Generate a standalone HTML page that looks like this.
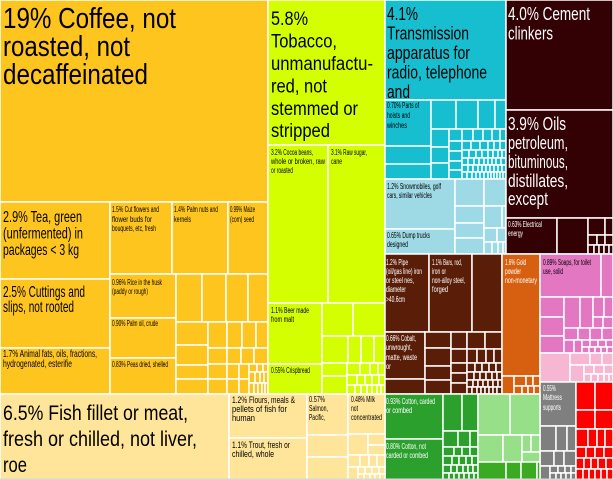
<!DOCTYPE html>
<html><head><meta charset="utf-8"><style>
html,body{margin:0;padding:0;background:#fff;}
svg{display:block;}
text{font-family:"Liberation Sans Narrow","Liberation Sans",sans-serif;}
</style></head><body>
<svg width="613" height="480" viewBox="0 0 613 480" xmlns="http://www.w3.org/2000/svg">
<rect x="0" y="0" width="613" height="480" fill="#fff"/>
<g stroke="#fff" stroke-width="1.5">
<!-- yellow family -->
<g fill="#FFC51F">
<rect x="0" y="0" width="268" height="202"/>
<rect x="0" y="202" width="110" height="77"/>
<rect x="0" y="279" width="110" height="69"/>
<rect x="0" y="348" width="110" height="46"/>
<rect x="110" y="202" width="62" height="72"/>
<rect x="172" y="202" width="56" height="72"/>
<rect x="228" y="202" width="40" height="72"/>
<rect x="110" y="274" width="66" height="44"/>
<rect x="110" y="318" width="66" height="40"/>
<rect x="110" y="358" width="66" height="36"/>
<rect x="176" y="274" width="26" height="48"/>
<rect x="202" y="274" width="24" height="48"/>
<rect x="226" y="274" width="22" height="48"/>
<rect x="248" y="274" width="20" height="48"/>
<rect x="176" y="322" width="32" height="23"/>
<rect x="176" y="345" width="32" height="20"/>
<rect x="176" y="365" width="32" height="14"/>
<rect x="176" y="379" width="32" height="15"/>
<rect x="208" y="322" width="19" height="26"/>
<rect x="208" y="348" width="19" height="16"/>
<rect x="208" y="364" width="19" height="15"/>
<rect x="208" y="379" width="19" height="15"/>
<rect x="227" y="322" width="15" height="26"/>
<rect x="242" y="322" width="14" height="26"/>
<rect x="256" y="322" width="12" height="26"/>
<rect x="227" y="348" width="14" height="16"/>
<rect x="241" y="348" width="13" height="16"/>
<rect x="254" y="348" width="14" height="16"/>
<rect x="227" y="364" width="12" height="15"/>
<rect x="239" y="364" width="10" height="15"/>
<rect x="249" y="364" width="8" height="8"/>
<rect x="257" y="364" width="6" height="8"/>
<rect x="263" y="364" width="5" height="8"/>
<rect x="227" y="379" width="12" height="15"/>
<rect x="239" y="379" width="10" height="15"/>
<rect x="249" y="372" width="6" height="11"/>
<rect x="255" y="372" width="5" height="11"/>
<rect x="260" y="372" width="4" height="11"/>
<rect x="264" y="372" width="4" height="11"/>
<rect x="249" y="383" width="5" height="11"/>
<rect x="254" y="383" width="4" height="11"/>
<rect x="258" y="383" width="4" height="11"/>
<rect x="262" y="383" width="3" height="11"/>
<rect x="265" y="383" width="3" height="11"/>
</g>
<!-- lime family -->
<g fill="#D4FF00">
<rect x="268" y="0" width="117" height="145"/>
<rect x="268" y="145" width="60" height="158"/>
<rect x="328" y="145" width="57" height="158"/>
<rect x="268" y="303" width="54" height="61"/>
<rect x="268" y="364" width="54" height="30"/>
<rect x="322" y="303" width="31" height="33"/>
<rect x="353" y="303" width="32" height="33"/>
<rect x="322" y="336" width="26" height="27"/>
<rect x="348" y="336" width="13" height="27"/>
<rect x="361" y="336" width="13" height="27"/>
<rect x="374" y="336" width="11" height="27"/>
<rect x="322" y="363" width="25" height="13"/>
<rect x="322" y="376" width="25" height="18"/>
<rect x="347" y="363" width="13" height="12"/>
<rect x="360" y="363" width="10" height="12"/>
<rect x="370" y="363" width="8" height="12"/>
<rect x="378" y="363" width="7" height="12"/>
<rect x="347" y="375" width="10" height="10"/>
<rect x="357" y="375" width="8" height="10"/>
<rect x="365" y="375" width="7" height="10"/>
<rect x="372" y="375" width="7" height="10"/>
<rect x="379" y="375" width="6" height="10"/>
<rect x="347" y="385" width="8" height="9"/>
<rect x="355" y="385" width="6" height="9"/>
<rect x="361" y="385" width="6" height="9"/>
<rect x="367" y="385" width="5" height="9"/>
<rect x="372" y="385" width="5" height="9"/>
<rect x="377" y="385" width="4" height="9"/>
<rect x="381" y="385" width="4" height="9"/>
</g>
<!-- teal -->
<g fill="#17BECF">
<rect x="385" y="0" width="121" height="100"/>
<rect x="385" y="100" width="46" height="46"/>
<rect x="385" y="146" width="46" height="18"/>
<rect x="385" y="164" width="46" height="15"/>
<rect x="431" y="100" width="25" height="29"/>
<rect x="456" y="100" width="22" height="29"/>
<rect x="478" y="100" width="17" height="29"/>
<rect x="495" y="100" width="11" height="29"/>
<rect x="431" y="129" width="18" height="18"/>
<rect x="431" y="147" width="18" height="16"/>
<rect x="431" y="163" width="18" height="16"/>
<rect x="449" y="129" width="13" height="12"/>
<rect x="462" y="129" width="11" height="12"/>
<rect x="473" y="129" width="10" height="12"/>
<rect x="483" y="129" width="9" height="12"/>
<rect x="492" y="129" width="8" height="12"/>
<rect x="500" y="129" width="6" height="12"/>
<rect x="449" y="141" width="13" height="10"/>
<rect x="449" y="151" width="13" height="10"/>
<rect x="449" y="161" width="13" height="9"/>
<rect x="449" y="170" width="13" height="9"/>
<rect x="462" y="141" width="9" height="9"/>
<rect x="471" y="141" width="9" height="9"/>
<rect x="480" y="141" width="8" height="9"/>
<rect x="488" y="141" width="6" height="9"/>
<rect x="494" y="141" width="6" height="9"/>
<rect x="500" y="141" width="6" height="9"/>
<rect x="462" y="150" width="7" height="8"/>
<rect x="469" y="150" width="7" height="8"/>
<rect x="476" y="150" width="6" height="8"/>
<rect x="482" y="150" width="6" height="8"/>
<rect x="488" y="150" width="5" height="8"/>
<rect x="493" y="150" width="5" height="8"/>
<rect x="498" y="150" width="4" height="8"/>
<rect x="502" y="150" width="4" height="8"/>
<rect x="462" y="158" width="6" height="7"/>
<rect x="468" y="158" width="6" height="7"/>
<rect x="474" y="158" width="5" height="7"/>
<rect x="479" y="158" width="5" height="7"/>
<rect x="484" y="158" width="4" height="7"/>
<rect x="488" y="158" width="4" height="7"/>
<rect x="492" y="158" width="4" height="7"/>
<rect x="496" y="158" width="5" height="7"/>
<rect x="501" y="158" width="5" height="7"/>
<rect x="462" y="165" width="6" height="7"/>
<rect x="468" y="165" width="5" height="7"/>
<rect x="473" y="165" width="5" height="7"/>
<rect x="478" y="165" width="4" height="7"/>
<rect x="482" y="165" width="4" height="7"/>
<rect x="486" y="165" width="4" height="7"/>
<rect x="490" y="165" width="4" height="7"/>
<rect x="494" y="165" width="4" height="7"/>
<rect x="498" y="165" width="4" height="7"/>
<rect x="502" y="165" width="4" height="7"/>
<rect x="462" y="172" width="5" height="7"/>
<rect x="467" y="172" width="5" height="7"/>
<rect x="472" y="172" width="4" height="7"/>
<rect x="476" y="172" width="4" height="7"/>
<rect x="480" y="172" width="4" height="7"/>
<rect x="484" y="172" width="4" height="7"/>
<rect x="488" y="172" width="3" height="7"/>
<rect x="491" y="172" width="3" height="7"/>
<rect x="494" y="172" width="3" height="7"/>
<rect x="497" y="172" width="3" height="7"/>
<rect x="500" y="172" width="3" height="7"/>
<rect x="503" y="172" width="3" height="7"/>
</g>
<!-- light blue -->
<g fill="#9EDAE5">
<rect x="385" y="179" width="70" height="50"/>
<rect x="385" y="229" width="70" height="25"/>
<rect x="455" y="179" width="29" height="27"/>
<rect x="484" y="179" width="22" height="27"/>
<rect x="455" y="206" width="29" height="17"/>
<rect x="455" y="223" width="29" height="15"/>
<rect x="455" y="238" width="29" height="16"/>
<rect x="484" y="206" width="18" height="22"/>
<rect x="502" y="206" width="4" height="22"/>
<rect x="484" y="228" width="13" height="14"/>
<rect x="497" y="228" width="9" height="14"/>
<rect x="484" y="242" width="8" height="12"/>
<rect x="492" y="242" width="6" height="12"/>
<rect x="498" y="242" width="5" height="12"/>
<rect x="503" y="242" width="3" height="12"/>
</g>
<!-- dark brown -->
<g fill="#330003">
<rect x="506" y="0" width="107" height="110"/>
<rect x="506" y="110" width="107" height="108"/>
<rect x="506" y="218" width="51" height="36"/>
<rect x="557" y="218" width="31" height="36"/>
<rect x="588" y="218" width="17" height="17"/>
<rect x="605" y="218" width="8" height="17"/>
<rect x="588" y="235" width="9" height="10"/>
<rect x="597" y="235" width="8" height="10"/>
<rect x="605" y="235" width="8" height="10"/>
<rect x="588" y="245" width="6" height="9"/>
<rect x="594" y="245" width="5" height="9"/>
<rect x="599" y="245" width="5" height="9"/>
<rect x="604" y="245" width="5" height="9"/>
<rect x="609" y="245" width="4" height="9"/>
</g>
<!-- brown -->
<g fill="#5A1E08">
<rect x="385" y="254" width="44" height="78"/>
<rect x="429" y="254" width="43" height="78"/>
<rect x="472" y="254" width="30" height="78"/>
<rect x="385" y="332" width="40" height="47"/>
<rect x="385" y="379" width="40" height="15"/>
<rect x="425" y="332" width="26" height="16"/>
<rect x="425" y="348" width="26" height="18"/>
<rect x="425" y="366" width="26" height="14"/>
<rect x="425" y="380" width="26" height="14"/>
<rect x="451" y="332" width="16" height="17"/>
<rect x="467" y="332" width="18" height="17"/>
<rect x="485" y="332" width="17" height="17"/>
<rect x="451" y="349" width="16" height="14"/>
<rect x="467" y="349" width="10" height="14"/>
<rect x="477" y="349" width="9" height="14"/>
<rect x="486" y="349" width="8" height="14"/>
<rect x="494" y="349" width="8" height="14"/>
<rect x="451" y="363" width="16" height="10"/>
<rect x="451" y="373" width="16" height="10"/>
<rect x="451" y="383" width="16" height="11"/>
<rect x="467" y="363" width="8" height="9"/>
<rect x="475" y="363" width="7" height="9"/>
<rect x="482" y="363" width="7" height="9"/>
<rect x="489" y="363" width="7" height="9"/>
<rect x="496" y="363" width="6" height="9"/>
<rect x="467" y="372" width="7" height="8"/>
<rect x="474" y="372" width="6" height="8"/>
<rect x="480" y="372" width="6" height="8"/>
<rect x="486" y="372" width="6" height="8"/>
<rect x="492" y="372" width="5" height="8"/>
<rect x="497" y="372" width="5" height="8"/>
<rect x="467" y="380" width="6" height="7"/>
<rect x="473" y="380" width="5" height="7"/>
<rect x="478" y="380" width="5" height="7"/>
<rect x="483" y="380" width="5" height="7"/>
<rect x="488" y="380" width="5" height="7"/>
<rect x="493" y="380" width="5" height="7"/>
<rect x="498" y="380" width="4" height="7"/>
<rect x="467" y="387" width="5" height="7"/>
<rect x="472" y="387" width="5" height="7"/>
<rect x="477" y="387" width="4" height="7"/>
<rect x="481" y="387" width="4" height="7"/>
<rect x="485" y="387" width="4" height="7"/>
<rect x="489" y="387" width="4" height="7"/>
<rect x="493" y="387" width="4" height="7"/>
<rect x="497" y="387" width="5" height="7"/>
</g>
<!-- orange -->
<g fill="#D66010">
<rect x="502" y="254" width="38" height="122"/>
<rect x="502" y="376" width="12" height="18"/>
<rect x="514" y="376" width="12" height="10"/>
<rect x="526" y="376" width="7" height="10"/>
<rect x="533" y="376" width="7" height="10"/>
<rect x="514" y="386" width="8" height="8"/>
<rect x="522" y="386" width="6" height="8"/>
<rect x="528" y="386" width="6" height="8"/>
<rect x="534" y="386" width="6" height="8"/>
</g>
<!-- pink -->
<g fill="#E377C2">
<rect x="540" y="254" width="61" height="43"/>
<rect x="601" y="254" width="12" height="43"/>
<rect x="540" y="297" width="24" height="20"/>
<rect x="540" y="317" width="24" height="19"/>
<rect x="540" y="336" width="24" height="17"/>
<rect x="564" y="297" width="16" height="31"/>
<rect x="580" y="297" width="13" height="31"/>
<rect x="593" y="297" width="11" height="20"/>
<rect x="604" y="297" width="9" height="20"/>
<rect x="593" y="317" width="10" height="11"/>
<rect x="603" y="317" width="10" height="11"/>
<rect x="564" y="328" width="14" height="12"/>
<rect x="578" y="328" width="12" height="12"/>
<rect x="590" y="328" width="12" height="12"/>
<rect x="602" y="328" width="11" height="12"/>
<rect x="564" y="340" width="10" height="13"/>
<rect x="574" y="340" width="8" height="13"/>
<rect x="582" y="340" width="8" height="7"/>
<rect x="590" y="340" width="8" height="7"/>
<rect x="598" y="340" width="8" height="7"/>
<rect x="606" y="340" width="7" height="7"/>
<rect x="582" y="347" width="7" height="6"/>
<rect x="589" y="347" width="6" height="6"/>
<rect x="595" y="347" width="6" height="6"/>
<rect x="601" y="347" width="6" height="6"/>
<rect x="607" y="347" width="6" height="6"/>
</g>
<g fill="#F7B6D2">
<rect x="540" y="353" width="30" height="29"/>
<rect x="570" y="353" width="20" height="12"/>
<rect x="590" y="353" width="12" height="12"/>
<rect x="602" y="353" width="11" height="12"/>
<rect x="570" y="365" width="14" height="17"/>
<rect x="584" y="365" width="10" height="9"/>
<rect x="594" y="365" width="10" height="9"/>
<rect x="604" y="365" width="9" height="9"/>
<rect x="584" y="374" width="7" height="8"/>
<rect x="591" y="374" width="7" height="8"/>
<rect x="598" y="374" width="6" height="8"/>
<rect x="604" y="374" width="5" height="8"/>
<rect x="609" y="374" width="4" height="8"/>
</g>
<!-- gray -->
<g fill="#7F7F7F">
<rect x="540" y="382" width="36" height="44"/>
<rect x="540" y="426" width="16" height="25"/>
<rect x="556" y="426" width="11" height="25"/>
<rect x="567" y="426" width="9" height="25"/>
<rect x="540" y="451" width="14" height="15"/>
<rect x="554" y="451" width="10" height="15"/>
<rect x="564" y="451" width="12" height="15"/>
<rect x="540" y="466" width="10" height="14"/>
<rect x="550" y="466" width="8" height="7"/>
<rect x="558" y="466" width="7" height="7"/>
<rect x="565" y="466" width="6" height="7"/>
<rect x="571" y="466" width="5" height="7"/>
<rect x="550" y="473" width="6" height="7"/>
<rect x="556" y="473" width="5" height="7"/>
<rect x="561" y="473" width="5" height="7"/>
<rect x="566" y="473" width="5" height="7"/>
<rect x="571" y="473" width="5" height="7"/>
</g>
<!-- red -->
<g fill="#FF0000">
<rect x="576" y="382" width="19" height="28"/>
<rect x="595" y="382" width="18" height="28"/>
<rect x="576" y="410" width="19" height="19"/>
<rect x="595" y="410" width="18" height="19"/>
<rect x="576" y="429" width="12" height="18"/>
<rect x="588" y="429" width="9" height="18"/>
<rect x="597" y="429" width="8" height="18"/>
<rect x="605" y="429" width="8" height="18"/>
<rect x="576" y="447" width="10" height="11"/>
<rect x="586" y="447" width="9" height="11"/>
<rect x="595" y="447" width="9" height="11"/>
<rect x="604" y="447" width="9" height="11"/>
<rect x="576" y="458" width="8" height="11"/>
<rect x="584" y="458" width="7" height="11"/>
<rect x="591" y="458" width="7" height="11"/>
<rect x="598" y="458" width="8" height="11"/>
<rect x="606" y="458" width="7" height="11"/>
<rect x="576" y="469" width="7" height="11"/>
<rect x="583" y="469" width="6" height="11"/>
<rect x="589" y="469" width="6" height="11"/>
<rect x="595" y="469" width="6" height="11"/>
<rect x="601" y="469" width="6" height="11"/>
<rect x="607" y="469" width="6" height="11"/>
</g>
<!-- green -->
<g fill="#2CA02C">
<rect x="385" y="394" width="58" height="45"/>
<rect x="385" y="439" width="58" height="41"/>
<rect x="443" y="394" width="19" height="37"/>
<rect x="462" y="394" width="16" height="37"/>
<rect x="443" y="431" width="15" height="16"/>
<rect x="458" y="431" width="12" height="16"/>
<rect x="470" y="431" width="8" height="16"/>
<rect x="443" y="447" width="11" height="9"/>
<rect x="454" y="447" width="8" height="9"/>
<rect x="462" y="447" width="8" height="9"/>
<rect x="470" y="447" width="8" height="9"/>
<rect x="443" y="456" width="9" height="9"/>
<rect x="452" y="456" width="7" height="9"/>
<rect x="459" y="456" width="7" height="9"/>
<rect x="466" y="456" width="6" height="9"/>
<rect x="472" y="456" width="6" height="9"/>
<rect x="443" y="465" width="8" height="8"/>
<rect x="451" y="465" width="6" height="8"/>
<rect x="457" y="465" width="6" height="8"/>
<rect x="463" y="465" width="5" height="8"/>
<rect x="468" y="465" width="5" height="8"/>
<rect x="473" y="465" width="5" height="8"/>
<rect x="443" y="473" width="6" height="7"/>
<rect x="449" y="473" width="5" height="7"/>
<rect x="454" y="473" width="5" height="7"/>
<rect x="459" y="473" width="5" height="7"/>
<rect x="464" y="473" width="5" height="7"/>
<rect x="469" y="473" width="5" height="7"/>
<rect x="474" y="473" width="4" height="7"/>
</g>
<g fill="#98DF8A">
<rect x="478" y="394" width="32" height="41"/>
<rect x="510" y="394" width="30" height="41"/>
<rect x="478" y="435" width="25" height="27"/>
<rect x="503" y="435" width="19" height="27"/>
<rect x="522" y="435" width="9" height="17"/>
<rect x="531" y="435" width="9" height="17"/>
<rect x="522" y="452" width="18" height="10"/>
</g>
<g fill="#3AAA22">
<rect x="478" y="462" width="28" height="18"/>
<rect x="506" y="462" width="15" height="18"/>
<rect x="521" y="462" width="16" height="18"/>
<rect x="537" y="462" width="3" height="18"/>
</g>
<!-- light yellow -->
<g fill="#FFE599">
<rect x="0" y="394" width="229" height="86"/>
<rect x="229" y="394" width="78" height="44"/>
<rect x="229" y="438" width="78" height="42"/>
<rect x="307" y="394" width="41" height="41"/>
<rect x="348" y="394" width="37" height="40"/>
<rect x="307" y="435" width="41" height="22"/>
<rect x="307" y="457" width="41" height="23"/>
<rect x="348" y="434" width="20" height="21"/>
<rect x="368" y="434" width="17" height="11"/>
<rect x="368" y="445" width="17" height="10"/>
<rect x="348" y="455" width="12" height="12"/>
<rect x="360" y="455" width="9" height="12"/>
<rect x="369" y="455" width="8" height="12"/>
<rect x="377" y="455" width="8" height="12"/>
<rect x="348" y="467" width="10" height="13"/>
<rect x="358" y="467" width="7" height="7"/>
<rect x="365" y="467" width="7" height="7"/>
<rect x="372" y="467" width="7" height="7"/>
<rect x="379" y="467" width="6" height="7"/>
<rect x="358" y="474" width="6" height="6"/>
<rect x="364" y="474" width="6" height="6"/>
<rect x="370" y="474" width="5" height="6"/>
<rect x="375" y="474" width="5" height="6"/>
<rect x="380" y="474" width="5" height="6"/>
</g>
</g>
<rect x="0" y="478.5" width="613" height="1.5" fill="#d8d8d8"/>

<!-- TEXT -->
<g>
<g font-size="29" fill="#000">
<text x="3" y="28" textLength="173" lengthAdjust="spacingAndGlyphs">19% Coffee, not</text>
<text x="3" y="56" textLength="127" lengthAdjust="spacingAndGlyphs">roasted, not</text>
<text x="3" y="84" textLength="145" lengthAdjust="spacingAndGlyphs">decaffeinated</text>
</g>
<g font-size="16" fill="#000">
<text x="3" y="222" textLength="79" lengthAdjust="spacingAndGlyphs">2.9% Tea, green</text>
<text x="3" y="238.5" textLength="80" lengthAdjust="spacingAndGlyphs">(unfermented) in</text>
<text x="3" y="255" textLength="76" lengthAdjust="spacingAndGlyphs">packages &lt; 3 kg</text>
<text x="3" y="297" textLength="82" lengthAdjust="spacingAndGlyphs">2.5% Cuttings and</text>
<text x="3" y="312" textLength="71" lengthAdjust="spacingAndGlyphs">slips, not rooted</text>
</g>
<g font-size="10.5" fill="#000">
<text x="3" y="357" textLength="94" lengthAdjust="spacingAndGlyphs">1.7% Animal fats, oils, fractions,</text>
<text x="3" y="367" textLength="69" lengthAdjust="spacingAndGlyphs">hydrogenated, esterifie</text>
</g>
<g font-size="8" fill="#000">
<text x="112" y="212" textLength="47" lengthAdjust="spacingAndGlyphs">1.5% Cut flowers and</text>
<text x="112" y="222" textLength="40" lengthAdjust="spacingAndGlyphs">flower buds for</text>
<text x="112" y="231" textLength="44" lengthAdjust="spacingAndGlyphs">bouquets, etc, fresh</text>
<text x="174" y="212" textLength="44" lengthAdjust="spacingAndGlyphs">1.4% Palm nuts and</text>
<text x="174" y="222" textLength="17" lengthAdjust="spacingAndGlyphs">kernels</text>
<text x="230" y="212" textLength="25" lengthAdjust="spacingAndGlyphs">0.99% Maize</text>
<text x="230" y="222" textLength="24" lengthAdjust="spacingAndGlyphs">(corn) seed</text>
<text x="112" y="285" textLength="50" lengthAdjust="spacingAndGlyphs">0.96% Rice in the husk</text>
<text x="112" y="294" textLength="36" lengthAdjust="spacingAndGlyphs">(paddy or rough)</text>
<text x="112" y="326" textLength="46" lengthAdjust="spacingAndGlyphs">0.90% Palm oil, crude</text>
<text x="112" y="367" textLength="56" lengthAdjust="spacingAndGlyphs">0.83% Peas dried, shelled</text>
</g>
<g font-size="19" fill="#000">
<text x="271" y="25" textLength="37" lengthAdjust="spacingAndGlyphs">5.8%</text>
<text x="271" y="47.5" textLength="66" lengthAdjust="spacingAndGlyphs">Tobacco,</text>
<text x="271" y="70" textLength="102" lengthAdjust="spacingAndGlyphs">unmanufactu-</text>
<text x="271" y="92.5" textLength="56" lengthAdjust="spacingAndGlyphs">red, not</text>
<text x="271" y="115" textLength="87" lengthAdjust="spacingAndGlyphs">stemmed or</text>
<text x="271" y="137" textLength="59" lengthAdjust="spacingAndGlyphs">stripped</text>
</g>
<g font-size="8" fill="#000">
<text x="271" y="155" textLength="42" lengthAdjust="spacingAndGlyphs">3.2% Cocoa beans,</text>
<text x="271" y="164" textLength="54" lengthAdjust="spacingAndGlyphs">whole or broken, raw</text>
<text x="271" y="173" textLength="22" lengthAdjust="spacingAndGlyphs">or roasted</text>
<text x="331" y="155" textLength="36" lengthAdjust="spacingAndGlyphs">3.1% Raw sugar,</text>
<text x="331" y="164" textLength="11" lengthAdjust="spacingAndGlyphs">cane</text>
<text x="271" y="313" textLength="38" lengthAdjust="spacingAndGlyphs">1.1% Beer made</text>
<text x="271" y="322" textLength="23" lengthAdjust="spacingAndGlyphs">from malt</text>
<text x="271" y="373" textLength="39" lengthAdjust="spacingAndGlyphs">0.55% Crispbread</text>
</g>
<g font-size="18" fill="#000">
<text x="387" y="20" textLength="31" lengthAdjust="spacingAndGlyphs">4.1%</text>
<text x="387" y="39.5" textLength="82" lengthAdjust="spacingAndGlyphs">Transmission</text>
<text x="387" y="59" textLength="83" lengthAdjust="spacingAndGlyphs">apparatus for</text>
<text x="387" y="78.5" textLength="100" lengthAdjust="spacingAndGlyphs">radio, telephone</text>
<text x="387" y="98" textLength="23" lengthAdjust="spacingAndGlyphs">and</text>
</g>
<g font-size="8" fill="#000">
<text x="387" y="108" textLength="32" lengthAdjust="spacingAndGlyphs">0.70% Parts of</text>
<text x="387" y="118" textLength="23" lengthAdjust="spacingAndGlyphs">hoists and</text>
<text x="387" y="128" textLength="20" lengthAdjust="spacingAndGlyphs">winches</text>
<text x="387" y="189" textLength="54" lengthAdjust="spacingAndGlyphs">1.2% Snowmobiles, golf</text>
<text x="387" y="198" textLength="45" lengthAdjust="spacingAndGlyphs">cars, similar vehicles</text>
<text x="387" y="238" textLength="43" lengthAdjust="spacingAndGlyphs">0.65% Dump trucks</text>
<text x="387" y="247" textLength="21" lengthAdjust="spacingAndGlyphs">designed</text>
</g>
<g font-size="18" fill="#fff">
<text x="508" y="20" textLength="82" lengthAdjust="spacingAndGlyphs">4.0% Cement</text>
<text x="508" y="39.5" textLength="45" lengthAdjust="spacingAndGlyphs">clinkers</text>
<text x="508" y="130" textLength="58" lengthAdjust="spacingAndGlyphs">3.9% Oils</text>
<text x="508" y="149" textLength="60" lengthAdjust="spacingAndGlyphs">petroleum,</text>
<text x="508" y="168" textLength="60" lengthAdjust="spacingAndGlyphs">bituminous,</text>
<text x="508" y="187" textLength="60" lengthAdjust="spacingAndGlyphs">distillates,</text>
<text x="508" y="205" textLength="40" lengthAdjust="spacingAndGlyphs">except</text>
</g>
<g font-size="8" fill="#fff">
<text x="508" y="227" textLength="34" lengthAdjust="spacingAndGlyphs">0.63% Electrical</text>
<text x="508" y="236" textLength="15" lengthAdjust="spacingAndGlyphs">energy</text>
<text x="386" y="265" textLength="22" lengthAdjust="spacingAndGlyphs">1.2% Pipe</text>
<text x="386" y="274" textLength="36" lengthAdjust="spacingAndGlyphs">(oil/gas line) iron</text>
<text x="386" y="283" textLength="28" lengthAdjust="spacingAndGlyphs">or steel nes,</text>
<text x="386" y="292" textLength="20" lengthAdjust="spacingAndGlyphs">diameter</text>
<text x="386" y="302" textLength="19" lengthAdjust="spacingAndGlyphs">&gt;40.6cm</text>
<text x="432" y="265" textLength="30" lengthAdjust="spacingAndGlyphs">1.1% Bars, rod,</text>
<text x="432" y="274" textLength="14" lengthAdjust="spacingAndGlyphs">iron or</text>
<text x="432" y="283" textLength="33" lengthAdjust="spacingAndGlyphs">non-alloy steel,</text>
<text x="432" y="292" textLength="16" lengthAdjust="spacingAndGlyphs">forged</text>
<text x="505" y="265" textLength="21" lengthAdjust="spacingAndGlyphs">1.6% Gold</text>
<text x="505" y="274" textLength="16" lengthAdjust="spacingAndGlyphs">powder</text>
<text x="505" y="283" textLength="32" lengthAdjust="spacingAndGlyphs">non-monetary</text>
<text x="386" y="341" textLength="30" lengthAdjust="spacingAndGlyphs">0.66% Cobalt,</text>
<text x="386" y="350" textLength="26" lengthAdjust="spacingAndGlyphs">unwrought,</text>
<text x="386" y="360" textLength="31" lengthAdjust="spacingAndGlyphs">matte, waste</text>
<text x="386" y="369" textLength="5" lengthAdjust="spacingAndGlyphs">or</text>
<text x="386" y="404" textLength="49" lengthAdjust="spacingAndGlyphs">0.93% Cotton, carded</text>
<text x="386" y="413" textLength="26" lengthAdjust="spacingAndGlyphs">or combed</text>
<text x="386" y="449" textLength="40" lengthAdjust="spacingAndGlyphs">0.80% Cotton, not</text>
<text x="386" y="458" textLength="42" lengthAdjust="spacingAndGlyphs">carded or combed</text>
<text x="543" y="391" textLength="13" lengthAdjust="spacingAndGlyphs">0.55%</text>
<text x="543" y="400" textLength="19" lengthAdjust="spacingAndGlyphs">Mattress</text>
<text x="543" y="410" textLength="18" lengthAdjust="spacingAndGlyphs">supports</text>
</g>
<g font-size="8" fill="#000">
<text x="543" y="265" textLength="48" lengthAdjust="spacingAndGlyphs">0.89% Soaps, for toilet</text>
<text x="543" y="274" textLength="20" lengthAdjust="spacingAndGlyphs">use, solid</text>
</g>
<g font-size="21" fill="#000">
<text x="3" y="420" textLength="185" lengthAdjust="spacingAndGlyphs">6.5% Fish fillet or meat,</text>
<text x="3" y="446" textLength="194" lengthAdjust="spacingAndGlyphs">fresh or chilled, not liver,</text>
<text x="3" y="472" textLength="24" lengthAdjust="spacingAndGlyphs">roe</text>
</g>
<g font-size="9.5" fill="#000">
<text x="232" y="403" textLength="63" lengthAdjust="spacingAndGlyphs">1.2% Flours, meals &amp;</text>
<text x="232" y="412" textLength="55" lengthAdjust="spacingAndGlyphs">pellets of fish for</text>
<text x="232" y="421" textLength="23" lengthAdjust="spacingAndGlyphs">human</text>
<text x="232" y="448" textLength="58" lengthAdjust="spacingAndGlyphs">1.1% Trout, fresh or</text>
<text x="232" y="457" textLength="42" lengthAdjust="spacingAndGlyphs">chilled, whole</text>
</g>
<g font-size="8" fill="#000">
<text x="309" y="402" textLength="16" lengthAdjust="spacingAndGlyphs">0.57%</text>
<text x="309" y="411" textLength="19" lengthAdjust="spacingAndGlyphs">Salmon,</text>
<text x="309" y="420" textLength="16" lengthAdjust="spacingAndGlyphs">Pacific,</text>
<text x="351" y="402" textLength="24" lengthAdjust="spacingAndGlyphs">0.48% Milk</text>
<text x="351" y="411" textLength="7" lengthAdjust="spacingAndGlyphs">not</text>
<text x="351" y="420" textLength="31" lengthAdjust="spacingAndGlyphs">concentrated</text>
</g>
</g>
</svg>
</body></html>
